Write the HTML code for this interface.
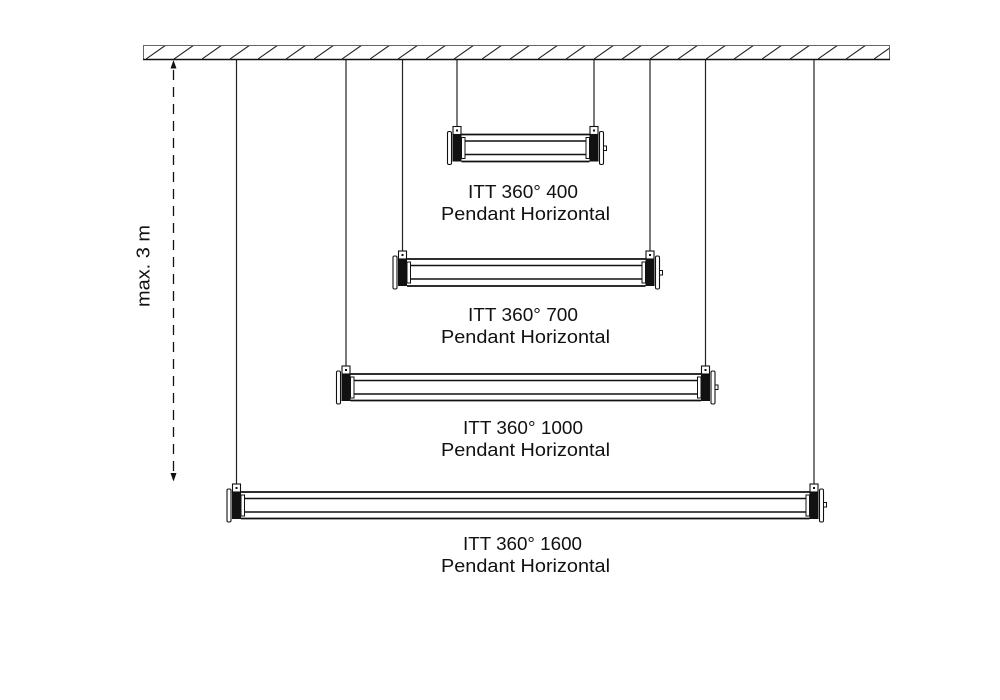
<!DOCTYPE html>
<html><head><meta charset="utf-8"><style>
html,body{margin:0;padding:0;background:#fff;}
svg{display:block;}
text{font-family:"Liberation Sans",Arial,sans-serif;fill:#111;}
</style></head><body>
<svg width="1000" height="700" viewBox="0 0 1000 700" xmlns="http://www.w3.org/2000/svg">
<defs>
<pattern id="hatch" patternUnits="userSpaceOnUse" x="146" y="45" width="28" height="14">
<line x1="0" y1="14" x2="20" y2="0" stroke="#222" stroke-width="1.1"/>
</pattern>
</defs>
<!-- ceiling -->
<rect x="143.5" y="45.5" width="746" height="14" fill="url(#hatch)" stroke="#666" stroke-width="1"/>
<line x1="143" y1="59.5" x2="890" y2="59.5" stroke="#111" stroke-width="1.4"/>

<!-- dimension arrow -->
<line x1="173.5" y1="70" x2="173.5" y2="473" stroke="#111" stroke-width="1.3" stroke-dasharray="10 7"/>
<polygon points="173.5,60 170.5,68.5 176.5,68.5" fill="#111"/>
<polygon points="173.5,481.5 170.5,473 176.5,473" fill="#111"/>
<text x="0" y="0" font-size="18" text-anchor="middle" textLength="82" lengthAdjust="spacingAndGlyphs" transform="translate(149.5,266) rotate(-90)">max. 3 m</text>

<!-- wires -->
<g stroke="#222" stroke-width="1.2">
<line x1="236.5" y1="60" x2="236.5" y2="484"/>
<line x1="346" y1="60" x2="346" y2="366"/>
<line x1="402.5" y1="60" x2="402.5" y2="251"/>
<line x1="457" y1="60" x2="457" y2="127"/>
<line x1="594" y1="60" x2="594" y2="127"/>
<line x1="650" y1="60" x2="650" y2="251"/>
<line x1="705.5" y1="60" x2="705.5" y2="366"/>
<line x1="814" y1="60" x2="814" y2="484"/>
</g>

<!-- Fixture 1: wl=457 wr=594 T=134.5 -->
<g>
<line x1="461.5" y1="134.5" x2="589.5" y2="134.5" stroke="#111" stroke-width="1.7"/>
<line x1="461.5" y1="161.5" x2="589.5" y2="161.5" stroke="#111" stroke-width="1.7"/>
<line x1="465" y1="141" x2="586" y2="141" stroke="#111" stroke-width="1.5"/>
<line x1="465" y1="154.5" x2="586" y2="154.5" stroke="#111" stroke-width="1.5"/>
<rect x="447.5" y="131.5" width="4" height="33" rx="1.5" fill="#fff" stroke="#111" stroke-width="1.1"/>
<rect x="452.5" y="134.5" width="9" height="27" fill="#111"/>
<rect x="453" y="126.5" width="8" height="8" fill="#fff" stroke="#111" stroke-width="1.1"/>
<rect x="456" y="129.5" width="2" height="2" fill="#111"/>
<rect x="461.5" y="137.5" width="3.5" height="21" fill="#fff" stroke="#111" stroke-width="1"/>
<rect x="599.5" y="131.5" width="4" height="33" rx="1.5" fill="#fff" stroke="#111" stroke-width="1.1"/>
<rect x="589.5" y="134.5" width="9" height="27" fill="#111"/>
<rect x="590" y="126.5" width="8" height="8" fill="#fff" stroke="#111" stroke-width="1.1"/>
<rect x="593" y="129.5" width="2" height="2" fill="#111"/>
<rect x="586" y="137.5" width="3.5" height="21" fill="#fff" stroke="#111" stroke-width="1"/>
<rect x="603.5" y="146" width="3" height="4.5" fill="#fff" stroke="#111" stroke-width="1"/>
</g>

<!-- Fixture 2: wl=402.5 wr=650 T=259 -->
<g>
<line x1="407" y1="259" x2="645.5" y2="259" stroke="#111" stroke-width="1.7"/>
<line x1="407" y1="286" x2="645.5" y2="286" stroke="#111" stroke-width="1.7"/>
<line x1="410.5" y1="265.5" x2="642" y2="265.5" stroke="#111" stroke-width="1.5"/>
<line x1="410.5" y1="279" x2="642" y2="279" stroke="#111" stroke-width="1.5"/>
<rect x="393" y="256" width="4" height="33" rx="1.5" fill="#fff" stroke="#111" stroke-width="1.1"/>
<rect x="398" y="259" width="9" height="27" fill="#111"/>
<rect x="398.5" y="251" width="8" height="8" fill="#fff" stroke="#111" stroke-width="1.1"/>
<rect x="401.5" y="254" width="2" height="2" fill="#111"/>
<rect x="407" y="262" width="3.5" height="21" fill="#fff" stroke="#111" stroke-width="1"/>
<rect x="655.5" y="256" width="4" height="33" rx="1.5" fill="#fff" stroke="#111" stroke-width="1.1"/>
<rect x="645.5" y="259" width="9" height="27" fill="#111"/>
<rect x="646" y="251" width="8" height="8" fill="#fff" stroke="#111" stroke-width="1.1"/>
<rect x="649" y="254" width="2" height="2" fill="#111"/>
<rect x="642" y="262" width="3.5" height="21" fill="#fff" stroke="#111" stroke-width="1"/>
<rect x="659.5" y="270.5" width="3" height="4.5" fill="#fff" stroke="#111" stroke-width="1"/>
</g>

<!-- Fixture 3: wl=346 wr=705.5 T=374 -->
<g>
<line x1="350.5" y1="374" x2="701" y2="374" stroke="#111" stroke-width="1.7"/>
<line x1="350.5" y1="400.5" x2="701" y2="400.5" stroke="#111" stroke-width="1.7"/>
<line x1="354" y1="380.5" x2="697.5" y2="380.5" stroke="#111" stroke-width="1.5"/>
<line x1="354" y1="394" x2="697.5" y2="394" stroke="#111" stroke-width="1.5"/>
<rect x="336.5" y="371" width="4" height="33" rx="1.5" fill="#fff" stroke="#111" stroke-width="1.1"/>
<rect x="341.5" y="374" width="9" height="27" fill="#111"/>
<rect x="342" y="366" width="8" height="8" fill="#fff" stroke="#111" stroke-width="1.1"/>
<rect x="345" y="369" width="2" height="2" fill="#111"/>
<rect x="350.5" y="377" width="3.5" height="21" fill="#fff" stroke="#111" stroke-width="1"/>
<rect x="711" y="371" width="4" height="33" rx="1.5" fill="#fff" stroke="#111" stroke-width="1.1"/>
<rect x="701" y="374" width="9" height="27" fill="#111"/>
<rect x="701.5" y="366" width="8" height="8" fill="#fff" stroke="#111" stroke-width="1.1"/>
<rect x="704.5" y="369" width="2" height="2" fill="#111"/>
<rect x="697.5" y="377" width="3.5" height="21" fill="#fff" stroke="#111" stroke-width="1"/>
<rect x="715" y="385" width="3" height="4.5" fill="#fff" stroke="#111" stroke-width="1"/>
</g>

<!-- Fixture 4: wl=236.5 wr=814 T=492 -->
<g>
<line x1="241" y1="492" x2="809.5" y2="492" stroke="#111" stroke-width="1.7"/>
<line x1="241" y1="518.5" x2="809.5" y2="518.5" stroke="#111" stroke-width="1.7"/>
<line x1="244.5" y1="498.5" x2="806" y2="498.5" stroke="#111" stroke-width="1.5"/>
<line x1="244.5" y1="512" x2="806" y2="512" stroke="#111" stroke-width="1.5"/>
<rect x="227" y="489" width="4" height="33" rx="1.5" fill="#fff" stroke="#111" stroke-width="1.1"/>
<rect x="232" y="492" width="9" height="27" fill="#111"/>
<rect x="232.5" y="484" width="8" height="8" fill="#fff" stroke="#111" stroke-width="1.1"/>
<rect x="235.5" y="487" width="2" height="2" fill="#111"/>
<rect x="241" y="495" width="3.5" height="21" fill="#fff" stroke="#111" stroke-width="1"/>
<rect x="819.5" y="489" width="4" height="33" rx="1.5" fill="#fff" stroke="#111" stroke-width="1.1"/>
<rect x="809.5" y="492" width="9" height="27" fill="#111"/>
<rect x="810" y="484" width="8" height="8" fill="#fff" stroke="#111" stroke-width="1.1"/>
<rect x="813" y="487" width="2" height="2" fill="#111"/>
<rect x="806" y="495" width="3.5" height="21" fill="#fff" stroke="#111" stroke-width="1"/>
<rect x="823.5" y="502.5" width="3" height="4.5" fill="#fff" stroke="#111" stroke-width="1"/>
</g>

<!-- labels -->
<g font-size="18" text-anchor="middle">
<text x="523" y="198" textLength="110" lengthAdjust="spacingAndGlyphs">ITT 360° 400</text>
<text x="525.5" y="220" textLength="169" lengthAdjust="spacingAndGlyphs">Pendant Horizontal</text>
<text x="523" y="321" textLength="110" lengthAdjust="spacingAndGlyphs">ITT 360° 700</text>
<text x="525.5" y="343" textLength="169" lengthAdjust="spacingAndGlyphs">Pendant Horizontal</text>
<text x="523" y="434" textLength="120" lengthAdjust="spacingAndGlyphs">ITT 360° 1000</text>
<text x="525.5" y="456" textLength="169" lengthAdjust="spacingAndGlyphs">Pendant Horizontal</text>
<text x="522.5" y="550" textLength="119" lengthAdjust="spacingAndGlyphs">ITT 360° 1600</text>
<text x="525.5" y="572" textLength="169" lengthAdjust="spacingAndGlyphs">Pendant Horizontal</text>
</g>
</svg>
</body></html>
